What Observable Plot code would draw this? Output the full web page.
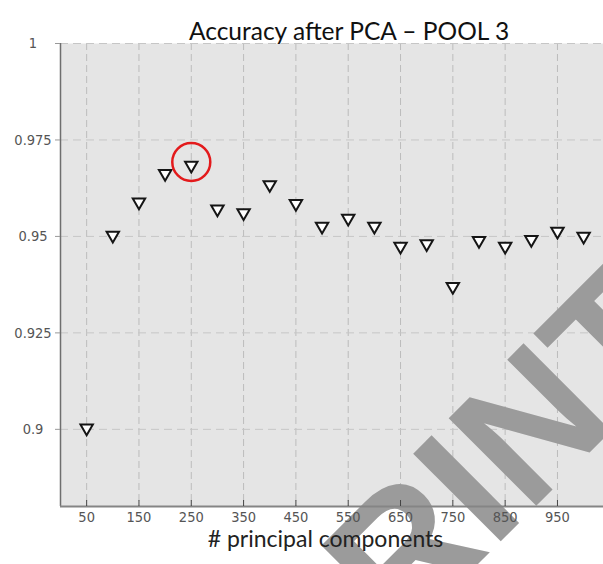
<!DOCTYPE html>
<html><head><meta charset="utf-8">
<script src="https://cdn.jsdelivr.net/npm/d3@7"></script>
<script src="https://cdn.jsdelivr.net/npm/@observablehq/plot@0.6"></script>
<style>body{margin:0;background:#fff}</style>
</head><body><div id="chart"></div>
<script>
const components = [50,100,150,200,250,300,350,400,450,500,550,600,650,700,750,800,850,900,950,1000];
const accuracy = [0.9003,0.9503,0.9589,0.9663,0.9684,0.9571,0.9561,0.9634,0.9585,0.9526,0.9547,0.9526,0.9474,0.9481,0.9370,0.9489,0.9474,0.9492,0.9513,0.9500];
const xTicks = [50,150,250,350,450,550,650,750,850,950];
const xTickLabels = ["50","150","250","350","450","550","650","750","850","950"];
const yTicks = [0.9,0.925,0.95,0.975,1];
const yTickLabels = ["0.9","0.925","0.95","0.975","1"];
const highlightComponents = [250];
const highlightAccuracy = [0.9693];
const title = "Accuracy after PCA \u2013 POOL 3";
const xLabel = "# principal components";
const watermark = "PRINT";

const data = components.map((c, i) => ({c, a: accuracy[i]}));
const hl = highlightComponents.map((c, i) => ({c, a: highlightAccuracy[i]}));
const tickFont = "DejaVu Sans Condensed, DejaVu Sans, sans-serif";

const chart = Plot.plot({
  width: 603, height: 564,
  marginLeft: 60, marginRight: 0, marginTop: 43, marginBottom: 58,
  style: {background: "white", fontFamily: "DejaVu Sans"},
  x: {domain: [0, 1038], axis: null},
  y: {domain: [0.88, 1], axis: null},
  marks: [
    Plot.frame({fill: "#e5e5e5", stroke: null}),
    Plot.gridX(xTicks, {stroke: "#bcbcbc", strokeOpacity: 1, strokeDasharray: "7,4"}),
    Plot.gridY(yTicks, {stroke: "#c6c6c6", strokeOpacity: 1, strokeDasharray: "8,5"}),
    Plot.text([watermark], {frameAnchor: "top-left", dx: 255, dy: 683, rotate: -45, textAnchor: "start", lineAnchor: "bottom", fontSize: 180, fontWeight: "bold", fontFamily: "Liberation Sans", fill: "#9b9b9b"}),
    Plot.ruleX([0], {stroke: "#6e6e6e", strokeWidth: 1.5}),
    Plot.ruleY([0.88], {stroke: "#858585", strokeWidth: 2}),
    Plot.ruleX(xTicks, {y1: 0.88, y2: 0.88, insetTop: -6, stroke: "#444"}),
    Plot.ruleY(yTicks, {x1: 0, x2: 0, insetLeft: -5, stroke: "#999"}),
    Plot.text(xTicks, {x: d => d, frameAnchor: "bottom", dy: 15, text: (d, i) => xTickLabels[i], fontSize: 14.5, fontFamily: tickFont, fill: "#555"}),
    Plot.text(yTicks, {y: d => d, frameAnchor: "left", dx: -27.5, text: (d, i) => yTickLabels[i], textAnchor: "middle", fontSize: 14.5, fontFamily: tickFont, fill: "#555"}),
    Plot.text([title], {frameAnchor: "top", dx: 17, dy: -21, fontSize: 24.5, fontFamily: "Lato", fill: "#111"}),
    Plot.text([xLabel], {frameAnchor: "bottom", dx: -6.5, dy: 40.5, fontSize: 23, fontFamily: "Lato", fill: "#222"}),
    Plot.dot(data, {x: "c", y: "a", symbol: "triangle", rotate: 180, r: 4.6, fill: "white", stroke: "#151515", strokeWidth: 2}),
    Plot.dot(hl, {x: "c", y: "a", r: 19, stroke: "#e31a1c", strokeWidth: 2.5, fill: "none"})
  ]
});
document.getElementById("chart").appendChild(chart);
</script>
</body></html>
